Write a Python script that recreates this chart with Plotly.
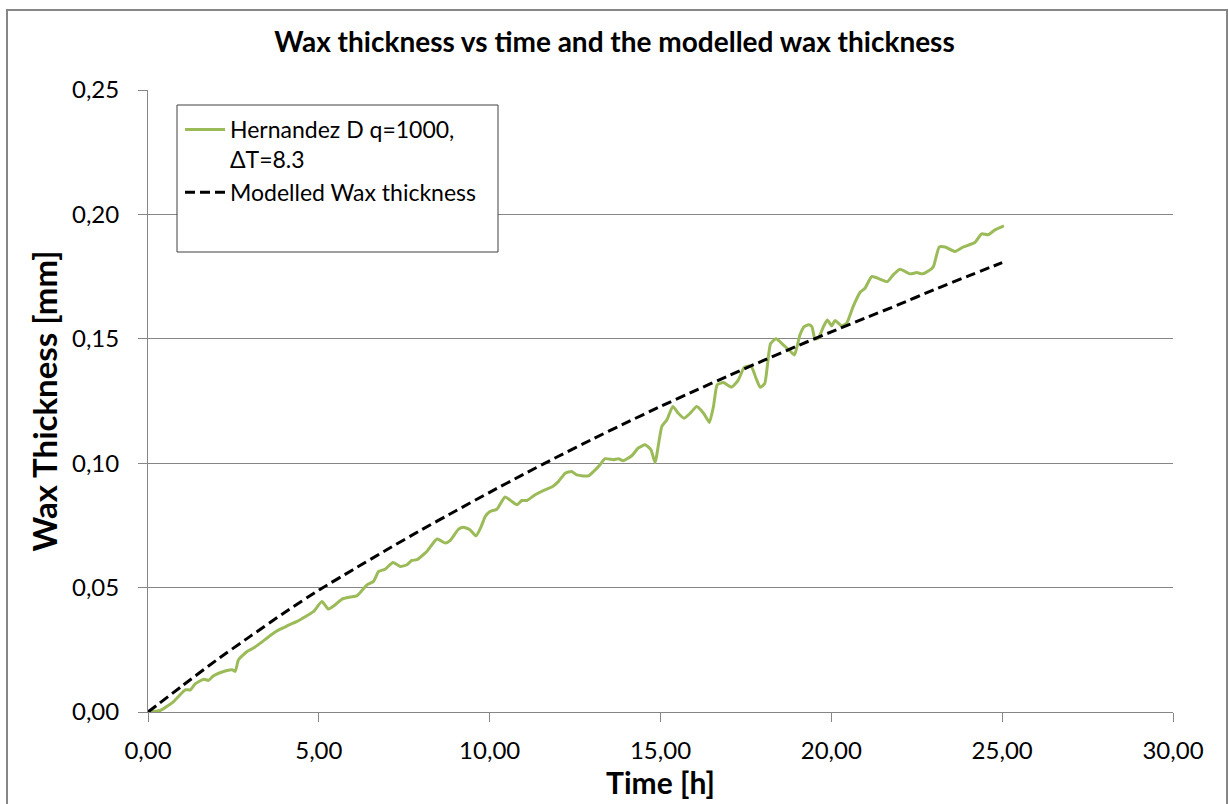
import plotly.graph_objects as go

# Measured wax thickness, Hernandez D q=1000, dT=8.3
time_h = [0.00, 0.36, 0.75, 1.09, 1.24, 1.38, 1.63, 1.77, 1.92, 2.21, 2.46, 2.55, 2.65, 2.90,
          3.09, 3.29, 3.67, 3.87, 4.07, 4.36, 4.65, 4.85, 5.09, 5.28, 5.48, 5.68, 5.92, 6.11,
          6.26, 6.41, 6.60, 6.75, 6.94, 7.17, 7.38, 7.58, 7.72, 7.87, 8.16, 8.46, 8.70, 8.84,
          9.09, 9.23, 9.43, 9.60, 9.75, 9.87, 10.01, 10.21, 10.45, 10.65, 10.80, 10.94, 11.09,
          11.33, 11.57, 11.82, 12.01, 12.21, 12.40, 12.55, 12.74, 12.89, 13.09, 13.23, 13.38,
          13.62, 13.77, 13.91, 14.16, 14.35, 14.55, 14.72, 14.84, 15.04, 15.19, 15.36, 15.52,
          15.69, 15.87, 16.06, 16.26, 16.43, 16.55, 16.66, 16.84, 17.08, 17.28, 17.45, 17.65,
          17.80, 17.92, 18.05, 18.22, 18.38, 18.60, 18.80, 18.92, 19.08, 19.20, 19.33, 19.43,
          19.52, 19.62, 19.77, 19.88, 20.01, 20.11, 20.30, 20.45, 20.64, 20.84, 20.99, 21.18,
          21.42, 21.64, 21.81, 22.01, 22.30, 22.50, 22.67, 22.89, 22.99, 23.16, 23.33, 23.62,
          23.86, 24.20, 24.40, 24.59, 24.79, 25.05]
wax_mm = [0.0000, 0.0006, 0.0042, 0.0089, 0.0089, 0.0113, 0.0132, 0.0127, 0.0146, 0.0163, 0.0170,
          0.0163, 0.0210, 0.0243, 0.0257, 0.0277, 0.0317, 0.0333, 0.0346, 0.0364, 0.0387, 0.0404,
          0.0444, 0.0414, 0.0431, 0.0454, 0.0462, 0.0467, 0.0488, 0.0511, 0.0525, 0.0565, 0.0574,
          0.0601, 0.0585, 0.0592, 0.0609, 0.0612, 0.0645, 0.0695, 0.0679, 0.0689, 0.0735, 0.0743,
          0.0732, 0.0708, 0.0745, 0.0786, 0.0806, 0.0815, 0.0864, 0.0846, 0.0833, 0.0850, 0.0850,
          0.0873, 0.0890, 0.0904, 0.0926, 0.0960, 0.0967, 0.0953, 0.0949, 0.0949, 0.0973, 0.0994,
          0.1018, 0.1014, 0.1018, 0.1010, 0.1030, 0.1061, 0.1074, 0.1054, 0.1003, 0.1148, 0.1175,
          0.1228, 0.1201, 0.1181, 0.1201, 0.1228, 0.1201, 0.1164, 0.1228, 0.1315, 0.1324, 0.1306,
          0.1335, 0.1385, 0.1390, 0.1340, 0.1305, 0.1320, 0.1480, 0.1500, 0.1475, 0.1450, 0.1435,
          0.1515, 0.1548, 0.1556, 0.1549, 0.1499, 0.1503, 0.1549, 0.1576, 0.1552, 0.1574, 0.1552,
          0.1563, 0.1630, 0.1686, 0.1704, 0.1750, 0.1740, 0.1730, 0.1757, 0.1780, 0.1761, 0.1766,
          0.1761, 0.1777, 0.1791, 0.1869, 0.1869, 0.1851, 0.1869, 0.1887, 0.1922, 0.1918, 0.1938,
          0.1954]

# Modelled wax thickness
model_t = list(range(0, 26))
model_mm = [0.0000, 0.0105, 0.0208, 0.0305, 0.0400, 0.0490, 0.0572, 0.0653, 0.0732, 0.0808,
            0.0883, 0.0956, 0.1027, 0.1096, 0.1163, 0.1228, 0.1291, 0.1352, 0.1412, 0.1471,
            0.1528, 0.1584, 0.1639, 0.1697, 0.1752, 0.1806]

x_ticks = [0, 5, 10, 15, 20, 25, 30]
x_tick_text = ["0,00", "5,00", "10,00", "15,00", "20,00", "25,00", "30,00"]
y_ticks = [0, 0.05, 0.10, 0.15, 0.20, 0.25]
y_tick_text = ["0,00", "0,05", "0,10", "0,15", "0,20", "0,25"]

W, H = 1229, 804
ML, MR, MT, MB = 148, 56, 90, 92
PW, PH = W - ML - MR, H - MT - MB


def px_to_paper_x(px):
    return (px - ML) / PW


def px_to_paper_y(py):
    return (H - MB - py) / PH


FONT = "Lato"
GRAY = "#868686"

fig = go.Figure()
fig.add_trace(go.Scatter(
    x=time_h, y=wax_mm, mode="lines",
    name="Hernandez D q=1000,<br>ΔT=8.3",
    line=dict(color="#9BBB59", width=3, shape="spline", smoothing=0.5),
))
fig.add_trace(go.Scatter(
    x=model_t, y=model_mm, mode="lines",
    name="Modelled Wax thickness",
    line=dict(color="black", width=3, dash="10px,5px", shape="spline", smoothing=0.6),
))

shapes = [
    # outer chart frame
    dict(type="rect", xref="paper", yref="paper",
         x0=px_to_paper_x(7), x1=px_to_paper_x(1227),
         y0=px_to_paper_y(830), y1=px_to_paper_y(10),
         line=dict(color=GRAY, width=2), fillcolor="rgba(0,0,0,0)", layer="below"),
    # legend box
    dict(type="rect", xref="paper", yref="paper",
         x0=px_to_paper_x(177), x1=px_to_paper_x(498),
         y0=px_to_paper_y(252), y1=px_to_paper_y(105),
         line=dict(color="#404040", width=1), fillcolor="white", layer="above"),
]

fig.update_layout(
    width=W, height=H,
    margin=dict(l=ML, r=MR, t=MT, b=MB),
    paper_bgcolor="white", plot_bgcolor="white",
    font=dict(family=FONT, color="black", size=24),
    title=dict(text="<b>Wax thickness vs time and the modelled wax thickness</b>",
               x=0.5, xanchor="center", y=1 - 42 / H, yanchor="middle",
               font=dict(family=FONT, size=28, color="black")),
    showlegend=True,
    legend=dict(x=px_to_paper_x(180), y=px_to_paper_y(108), xanchor="left", yanchor="top",
                bgcolor="rgba(0,0,0,0)", borderwidth=0, valign="top",
                font=dict(family=FONT, size=23, color="black"),
                tracegroupgap=0, itemwidth=40),
    shapes=shapes,
)

fig.update_xaxes(
    range=[0, 30], tickvals=x_ticks, ticktext=x_tick_text,
    showgrid=False, zeroline=False,
    showline=True, linecolor=GRAY, linewidth=1,
    ticks="outside", ticklen=9, tickcolor=GRAY, tickwidth=1,
    tickfont=dict(family=FONT, size=24), ticklabelstandoff=8,
    title=dict(text="<b>Time [h]</b>", font=dict(family=FONT, size=30), standoff=8),
)
fig.update_yaxes(
    range=[0, 0.25], tickvals=y_ticks, ticktext=y_tick_text,
    showgrid=True, gridcolor=GRAY, gridwidth=1, zeroline=False,
    showline=True, linecolor=GRAY, linewidth=1,
    ticks="outside", ticklen=9, tickcolor=GRAY, tickwidth=1,
    tickfont=dict(family=FONT, size=24), ticklabelstandoff=14,
    title=dict(text="<b>Wax Thickness [mm]</b>", font=dict(family=FONT, size=33), standoff=4),
)

fig.write_html("out.html")
